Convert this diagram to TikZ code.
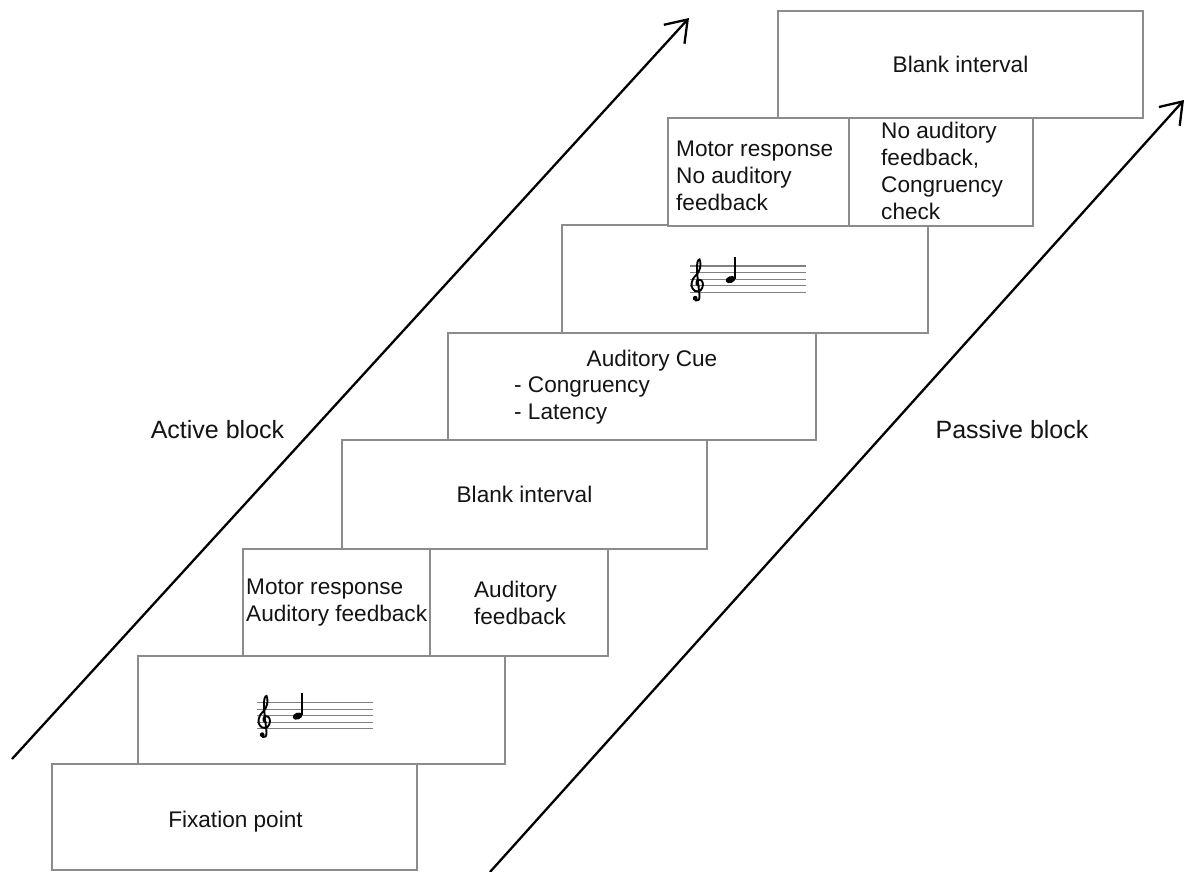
\documentclass[tikz,border=0pt]{standalone}
\usepackage{fontspec}
\setmainfont{Liberation Sans}
\usetikzlibrary{arrows.meta}
\definecolor{boxgray}{RGB}{140,140,140}
\definecolor{txt}{RGB}{20,20,20}
\tikzset{
  cell/.style={draw=boxgray, line width=1.8pt, inner sep=0pt, fill=white},
  lbl/.style={font=\fontsize{22.6}{27}\selectfont, text=txt, inner sep=0pt, align=left},
  blocklbl/.style={font=\fontsize{25}{29}\selectfont, text=txt, inner sep=0pt},
  timearrow/.style={line width=2.3pt, -{Straight Barb[length=20pt,width=28pt,line width=2.3pt]}},
  treblestaff/.pic={
    \foreach \k in {0,...,4}{\draw[gray, line width=1.1pt] (0,6.6*\k) -- (116,6.6*\k);}
    \draw[black, line width=1.9pt, line cap=round] plot[smooth, tension=0.55] coordinates {
      (9,20) (6.5,18) (7.5,14) (11.5,14.5) (13,19) (10.5,24.5) (5,25) (1.5,20)
      (3,13) (8.5,6) (10.5,-1) (9.5,-6.5) (7.5,-4) (7,4) (8,16) (9.5,30) (8.5,34) (6,34.5) (4.8,32.5)};
    \fill[black] (5.2,32.2) circle (2.4);
    \begin{scope}[shift={(40.5,13.6)}, rotate=20]
      \fill[black] (0,0) ellipse (5 and 3.4);
    \end{scope}
    \draw[black, line width=1.6pt] (45.2,12.5) -- (45.2,-9.5);
  }
}
\begin{document}
\begin{tikzpicture}[x=1pt, y=-1pt]
\useasboundingbox[fill=white] (0,0) rectangle (1186,872);

% boxes
\node[cell, minimum width=365pt, minimum height=106pt] (fix) at (234.5,817) {};
\node[cell, minimum width=367pt, minimum height=108pt] (staffA) at (321.5,710) {};
\node[cell, minimum width=187pt, minimum height=107pt] (motorA) at (336.5,602.5) {};
\node[cell, minimum width=178pt, minimum height=107pt] (feedA) at (519,602.5) {};
\node[cell, minimum width=365pt, minimum height=109pt] (blankA) at (524.5,494.5) {};
\node[cell, minimum width=368pt, minimum height=107pt] (cue) at (632,386.5) {};
\node[cell, minimum width=366pt, minimum height=108pt] (staffB) at (745,279) {};
\node[cell, minimum width=181pt, minimum height=108pt] (motorB) at (758.5,172) {};
\node[cell, minimum width=184pt, minimum height=108pt] (feedB) at (941,172) {};
\node[cell, minimum width=365pt, minimum height=107pt] (blankB) at (960.5,64.5) {};

% texts
\node[lbl, anchor=base] (tfix) at (235.5,827) {Fixation point};
\node[lbl, anchor=west] (tmotorA) at (246,603) {Motor response\\Auditory feedback};
\node[lbl] (tfeedA) at (520,603) {Auditory\\feedback};
\node[lbl] (tblankA) at (524.5,494) {Blank interval};
\node[lbl, anchor=base] (tcue) at (652,366) {Auditory Cue};
\node[lbl, anchor=base west] (tcong) at (514,392) {- Congruency};
\node[lbl, anchor=base west] (tlat) at (514,419) {- Latency};
\node[lbl, anchor=west] (tmotorB) at (676,176) {Motor response\\No auditory\\feedback};
\node[lbl, anchor=west] (tfeedB) at (881,171) {No auditory\\feedback,\\Congruency\\check};
\node[lbl] (tblankB) at (960.5,64) {Blank interval};

% music staves
\pic at (257,702.5) {treblestaff};
\pic at (690,266) {treblestaff};

% block labels
\node[blocklbl, anchor=base] (active) at (217.5,438) {Active block};
\node[blocklbl, anchor=base] (passive) at (1012,438) {Passive block};

% arrows
\coordinate (aS) at (12,759);
\coordinate (aE) at (689,18);
\coordinate (pS) at (490,872);
\coordinate (pE) at (1184,100);
\draw[timearrow] (aS) -- (aE);
\draw[timearrow] (pS) -- (pE);
\end{tikzpicture}
\end{document}
